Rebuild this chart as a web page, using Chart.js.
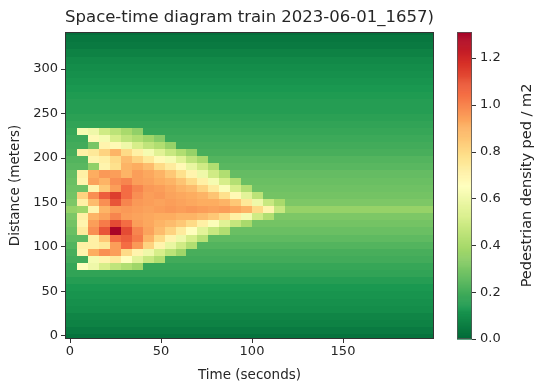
<!DOCTYPE html>
<html>
<head>
<meta charset="utf-8">
<script src="https://cdn.jsdelivr.net/npm/chart.js@4.4.1/dist/chart.umd.min.js"></script>
<style>
html,body{margin:0;padding:0;background:#ffffff;}
#wrap{width:537px;height:383px;}
</style>
</head>
<body>
<div id="wrap"><canvas id="c" width="537" height="383"></canvas></div>
<script>
// ---------- data ----------
const titleText = 'Space-time diagram train 2023-06-01_1657)';
const xLabel = 'Time (seconds)';
const yLabel = 'Distance (meters)';
const cbLabel = 'Pedestrian density ped / m2';

const xTicks = [0, 50, 100, 150];
const yTicks = [0, 50, 100, 150, 200, 250, 300];
const cbTicks = [0, 0.2, 0.4, 0.6, 0.8, 1.0, 1.2];

// time bin centres (s) and distance bin centres (m)
const times = [-5, 1, 7, 13, 19, 25, 31, 37, 43, 49, 55, 61, 67, 73, 79, 85, 91, 97, 103, 109,
  115, 121, 127, 133, 139, 145, 151, 157, 163, 169, 175, 181, 187, 193, 199];
const distances = [-2, 6, 14, 22, 30, 38, 46, 54, 62, 70, 78, 86, 94, 102, 110, 118, 126, 134, 142, 150,
  158, 166, 174, 182, 190, 198, 206, 214, 222, 230, 238, 246, 254, 262, 270, 278, 286, 294, 302, 310,
  318, 326, 334, 342];

// density when no crowd is passing (same for every time bin), one value per distance bin
const background = [0.03, 0.05, 0.07, 0.08, 0.10, 0.11, 0.12, 0.13, 0.15, 0.17, 0.18, 0.20, 0.21, 0.23,
  0.25, 0.27, 0.29, 0.31, 0.36, 0.31, 0.29, 0.28, 0.27, 0.26, 0.24, 0.23, 0.21, 0.20, 0.19, 0.18,
  0.17, 0.16, 0.15, 0.15, 0.14, 0.13, 0.12, 0.11, 0.10, 0.09, 0.07, 0.05, 0.04, 0.02];

// crowd wedge: columns are these time bins, rows these distance bins (null = background)
const wedgeTimes = [7, 13, 19, 25, 31, 37, 43, 49, 55, 61, 67, 73, 79, 85, 91, 97, 103, 109, 115, 121];
const wedgeDistances = [230, 222, 214, 206, 198, 190, 182, 174, 166, 158, 150, 142, 134, 126, 118, 110, 102, 94, 86, 78];
const wedgeDensity = [
  [0.62, 0.60, 0.50, 0.45, 0.40, 0.35, null, null, null, null, null, null, null, null, null, null, null, null, null, null],
  [null, 0.68, 0.62, 0.52, 0.46, 0.42, 0.38, 0.33, null, null, null, null, null, null, null, null, null, null, null, null],
  [null, 0.30, 0.70, 0.68, 0.60, 0.52, 0.46, 0.42, 0.36, null, null, null, null, null, null, null, null, null, null, null],
  [0.72, 0.75, 0.82, 0.90, 0.80, 0.72, 0.62, 0.55, 0.48, 0.42, 0.36, null, null, null, null, null, null, null, null, null],
  [null, 0.70, 0.72, 0.80, 0.88, 0.82, 0.75, 0.68, 0.62, 0.55, 0.46, 0.40, null, null, null, null, null, null, null, null],
  [null, 0.35, 0.70, 0.78, 0.90, 0.92, 0.88, 0.80, 0.74, 0.68, 0.58, 0.50, 0.42, null, null, null, null, null, null, null],
  [0.72, 0.92, 0.96, 0.95, 0.90, 0.95, 0.93, 0.90, 0.85, 0.78, 0.70, 0.60, 0.50, 0.42, null, null, null, null, null, null],
  [0.70, 0.94, 0.90, 0.98, 1.00, 0.95, 0.94, 0.92, 0.90, 0.86, 0.80, 0.72, 0.62, 0.52, 0.43, null, null, null, null, null],
  [null, 0.70, 0.85, 0.95, 1.05, 1.00, 0.96, 0.95, 0.93, 0.90, 0.88, 0.82, 0.74, 0.64, 0.52, 0.43, null, null, null, null],
  [0.82, 0.98, 1.08, 1.15, 1.05, 0.98, 0.95, 0.96, 0.94, 0.93, 0.92, 0.90, 0.86, 0.78, 0.68, 0.56, 0.45, null, null, null],
  [0.72, 0.88, 0.98, 1.10, 1.00, 0.96, 0.95, 0.94, 0.95, 0.94, 0.93, 0.92, 0.92, 0.90, 0.85, 0.75, 0.60, 0.48, 0.40, null],
  [0.38, 0.70, 0.90, 0.95, 0.96, 0.95, 0.94, 0.95, 0.96, 0.95, 0.96, 0.95, 0.94, 0.95, 0.93, 0.90, 0.80, 0.70, 0.48, null],
  [0.72, 0.90, 0.94, 1.00, 0.95, 0.94, 0.93, 0.92, 0.92, 0.90, 0.90, 0.88, 0.85, 0.80, 0.72, 0.62, 0.50, 0.42, null, null],
  [0.70, 0.95, 1.02, 1.12, 1.05, 0.95, 0.93, 0.90, 0.88, 0.85, 0.80, 0.72, 0.64, 0.55, 0.47, 0.40, null, null, null, null],
  [0.74, 0.98, 1.10, 1.30, 1.12, 1.00, 0.94, 0.88, 0.82, 0.74, 0.66, 0.56, 0.48, 0.42, null, null, null, null, null, null],
  [null, 0.72, 0.85, 1.05, 1.08, 1.02, 0.90, 0.80, 0.70, 0.60, 0.52, 0.44, null, null, null, null, null, null, null, null],
  [0.72, 0.72, 0.75, 0.95, 1.05, 0.96, 0.82, 0.70, 0.58, 0.50, 0.42, null, null, null, null, null, null, null, null, null],
  [0.70, 0.92, 0.98, 0.95, 0.80, 0.70, 0.60, 0.52, 0.45, 0.38, null, null, null, null, null, null, null, null, null, null],
  [null, 0.62, 0.70, 0.74, 0.66, 0.56, 0.48, 0.42, null, null, null, null, null, null, null, null, null, null, null, null],
  [0.66, 0.60, 0.52, 0.46, 0.42, 0.38, null, null, null, null, null, null, null, null, null, null, null, null, null, null]
];

// colour scale limits
const cbMin = 0;
const cbMax = 1.31;

// ---------- presentation ----------
const timeStep = 6;
const distStep = 8;
const cmapStops = ['#006837', '#1a9850', '#66bd63', '#a6d96a', '#d9ef8b', '#ffffbf',
  '#fee08b', '#fdae61', '#f46d43', '#d73027', '#a50026']; // RdYlGn reversed
const stopRGB = cmapStops.map(h => [parseInt(h.slice(1, 3), 16), parseInt(h.slice(3, 5), 16), parseInt(h.slice(5, 7), 16)]);
function colorFor(v) {
  let f = (v - cbMin) / (cbMax - cbMin);
  f = Math.max(0, Math.min(1, f));
  const p = f * (stopRGB.length - 1);
  const i = Math.min(stopRGB.length - 2, Math.floor(p));
  const t = p - i;
  const a = stopRGB[i], b = stopRGB[i + 1];
  return 'rgb(' + Math.round(a[0] + (b[0] - a[0]) * t) + ',' + Math.round(a[1] + (b[1] - a[1]) * t) + ',' + Math.round(a[2] + (b[2] - a[2]) * t) + ')';
}
function valueAt(di, t) {
  const wi = wedgeDistances.indexOf(distances[di]);
  if (wi >= 0) {
    const k = wedgeTimes.indexOf(t);
    if (k >= 0 && wedgeDensity[wi][k] !== null) return wedgeDensity[wi][k];
  }
  return background[di];
}

const textColor = '#262626';
const fontFamily = "'DejaVu Sans', 'Liberation Sans', sans-serif";
Chart.defaults.font.family = fontFamily;
Chart.defaults.color = textColor;

const heatmapPlugin = {
  id: 'heatmap',
  beforeDatasetsDraw(chart) {
    const {ctx, chartArea: a, scales: {x, y}} = chart;
    // cells are painted on an offscreen layer, then copied with a slight softening
    const off = document.createElement('canvas');
    off.width = chart.width;
    off.height = chart.height;
    const o = off.getContext('2d');
    distances.forEach((d, di) => {
      const y0 = Math.round(y.getPixelForValue(d + distStep / 2));
      const y1 = Math.round(y.getPixelForValue(d - distStep / 2));
      times.forEach(t => {
        const x0 = Math.round(x.getPixelForValue(t - timeStep / 2));
        const x1 = Math.round(x.getPixelForValue(t + timeStep / 2));
        o.fillStyle = colorFor(valueAt(di, t));
        o.fillRect(x0, y0, x1 - x0, y1 - y0);
      });
    });
    ctx.save();
    ctx.beginPath();
    ctx.rect(a.left, a.top, a.right - a.left, a.bottom - a.top);
    ctx.clip();
    ctx.filter = 'blur(0.7px)';
    ctx.drawImage(off, 0, 0);
    ctx.filter = 'none';
    ctx.restore();
  },
  afterDraw(chart) {
    const {ctx, chartArea: a, scales: {cb}} = chart;
    ctx.save();
    // axes frame
    ctx.strokeStyle = '#333333';
    ctx.lineWidth = 1;
    ctx.strokeRect(a.left + 0.5, a.top + 0.5, a.right - a.left - 1, a.bottom - a.top - 1);
    // title, centred over the axes
    ctx.fillStyle = textColor;
    ctx.font = '16.5px ' + fontFamily;
    ctx.textAlign = 'center';
    ctx.textBaseline = 'middle';
    ctx.fillText(titleText, (a.left + a.right) / 2, 18);
    // colour bar
    const barLeft = a.right + 23, barRight = a.right + 38;
    const n = 300;
    for (let i = 0; i < n; i++) {
      const v0 = cbMin + (cbMax - cbMin) * i / n;
      const v1 = cbMin + (cbMax - cbMin) * (i + 1) / n;
      const p0 = cb.getPixelForValue(v0), p1 = cb.getPixelForValue(v1);
      ctx.fillStyle = colorFor((v0 + v1) / 2);
      ctx.fillRect(barLeft, p1, barRight - barLeft, p0 - p1 + 0.6);
    }
    ctx.strokeStyle = '#555555';
    ctx.lineWidth = 0.8;
    const cTop = cb.getPixelForValue(cbMax), cBot = cb.getPixelForValue(cbMin);
    ctx.strokeRect(barLeft + 0.5, cTop + 0.5, barRight - barLeft - 1, cBot - cTop - 1);
    ctx.strokeStyle = '#333333';
    ctx.lineWidth = 1;
    cb.ticks.forEach(tk => {
      const py = Math.round(cb.getPixelForValue(tk.value)) + 0.5;
      ctx.beginPath();
      ctx.moveTo(barRight, py);
      ctx.lineTo(barRight + 4, py);
      ctx.stroke();
    });
    // colour bar label
    ctx.fillStyle = textColor;
    ctx.font = '14.5px ' + fontFamily;
    ctx.textAlign = 'center';
    ctx.textBaseline = 'middle';
    ctx.translate(527, (cTop + cBot) / 2);
    ctx.rotate(-Math.PI / 2);
    ctx.fillText(cbLabel, 0, 0);
    ctx.restore();
  }
};

const tickGrid = {display: true, drawOnChartArea: false, drawTicks: true, tickLength: 4, color: '#333333'};
const noEndPadding = s => { s.paddingTop = 0; s.paddingBottom = 0; };

new Chart(document.getElementById('c'), {
  type: 'scatter',
  data: {datasets: [{data: [], showLine: false}]},
  options: {
    responsive: false,
    animation: false,
    events: [],
    layout: {padding: {top: 32, left: 0, right: 0, bottom: 0}},
    plugins: {
      legend: {display: false},
      tooltip: {enabled: false},
      title: {display: false}
    },
    scales: {
      x: {
        type: 'linear', position: 'bottom', min: -2.75, max: 200,
        afterBuildTicks: s => { s.ticks = xTicks.map(v => ({value: v})); },
        afterFit: s => { s.height = 44; s.paddingLeft = 0; s.paddingRight = 0; },
        grid: tickGrid,
        border: {display: false},
        ticks: {font: {size: 13}, color: textColor, padding: 1, maxRotation: 0, callback: v => String(v)},
        title: {display: true, text: xLabel, font: {size: 13.5}, color: textColor, padding: {top: 0, bottom: -1}}
      },
      y: {
        type: 'linear', position: 'left', min: -3.4, max: 341.6,
        afterBuildTicks: s => { s.ticks = yTicks.map(v => ({value: v})); },
        afterFit: s => { s.width = 65; noEndPadding(s); },
        grid: tickGrid,
        border: {display: false},
        ticks: {font: {size: 13}, color: textColor, padding: 3, callback: v => String(v)},
        title: {display: true, text: yLabel, font: {size: 13.5}, color: textColor, padding: {top: 7, bottom: 0}}
      },
      cb: {
        type: 'linear', position: 'right', min: cbMin, max: cbMax,
        afterBuildTicks: s => { s.ticks = cbTicks.map(v => ({value: v})); },
        afterFit: s => { s.width = 103; noEndPadding(s); },
        grid: {display: false, drawTicks: false},
        border: {display: false},
        ticks: {font: {size: 13}, color: textColor, padding: 46, callback: v => Number(v).toFixed(1)}
      }
    }
  },
  plugins: [heatmapPlugin]
});
</script>
</body>
</html>
